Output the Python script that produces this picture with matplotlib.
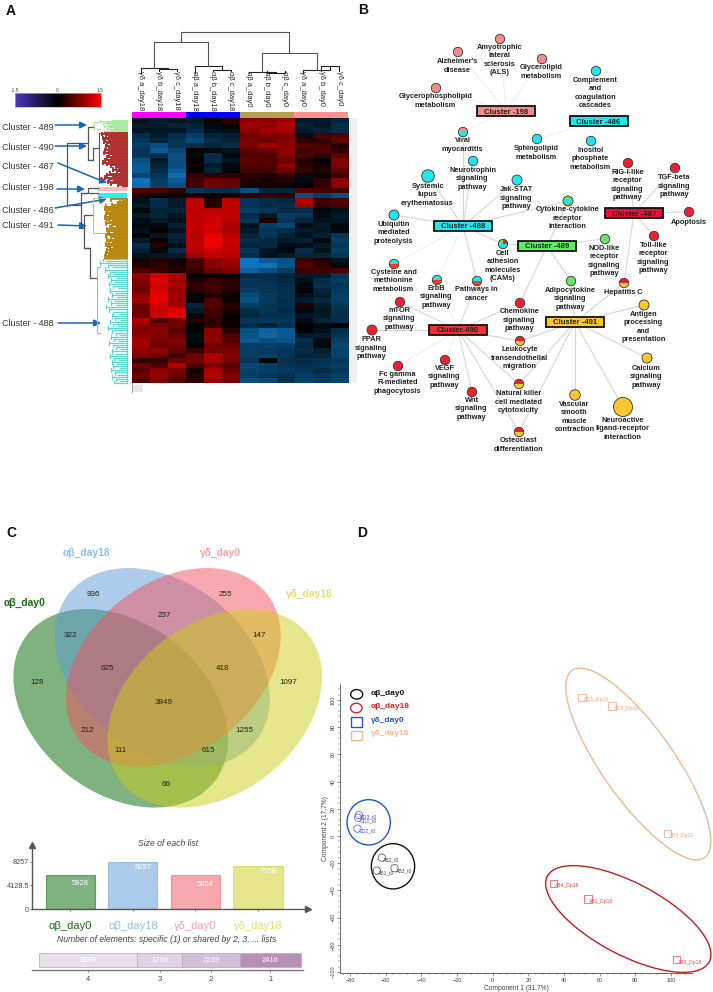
import numpy as np
import matplotlib
matplotlib.use("Agg")
import matplotlib.pyplot as plt
from matplotlib.colors import LinearSegmentedColormap
from matplotlib.patches import Circle, Ellipse, Rectangle, Wedge, FancyArrowPatch

plt.rcParams['font.family'] = ['Liberation Sans', 'DejaVu Sans']

W, H = 713, 992

# panel A, heatmap rows read top to bottom, three replicates per group
gd18_rows = [[-.2,-.3,-.25],[-.3,-.3,-.4],[-.25,-.25,-.3],[-.5,-.3,-.5],[-.6,-.4,-.6],[-.7,-.9,-.6],[-.6,-1.0,-.8],[-.6,-.5,-.9],
             [-.9,-.3,-.9],[-1.0,-.4,-.9],[-1.0,-.5,-1.0],[-.8,-.6,-1.2],[-1.3,-.7,-1.0],[-1.2,-.7,-.9],[.5,.5,.3],[.2,.1,.1],
             [-.2,-.5,-.3],[-.3,-.5,-.3],[-.1,-.4,-.4],[-.3,-.4,-.25],[-.15,-.3,-.2],[-.1,-.1,-.35],[-.2,.1,-.2],[-.05,-.25,-.4],
             [-.3,.1,-.35],[-.5,.2,-.2],[-.35,-.1,-.5],[-.2,-.25,-.3],[.15,.25,.1],[.2,.3,.15],[.5,.35,.2],[.9,1.3,1.1],
             [.8,1.4,1.0],[.75,1.3,1.1],[.7,1.35,.95],[.9,1.45,1.0],[1.0,1.45,.95],[.7,1.3,1.05],[.7,1.25,1.4],[.7,1.3,1.45],
             [1.1,.5,.7],[.9,.8,.7],[.8,.85,.55],[.9,.8,.7],[1.0,.75,.8],[1.0,.7,.75],[.9,.9,.6],[.8,.7,.4],
             [.3,.35,.7],[.7,.5,1.1],[.55,.9,.75],[.7,.95,.7],[.5,.85,.55]]
ab18_rows = [[-.3,.05,.25],[-.4,-.1,.1],[-.5,-.2,-.15],[-.7,-.4,-.35],[-.8,-.5,-.4],[-.5,-.4,-.5],[.1,-.1,-.2],[-.1,-.5,-.1],
             [.05,-.5,-.2],[.1,-.3,-.1],[-.05,-.4,-.05],[.35,.3,.3],[.4,.7,.6],[.45,.75,.7],[-.6,-.5,-.5],[.1,.1,.1],
             [1.2,.2,1.2],[1.2,.2,1.2],[1.2,1.2,1.2],[1.25,1.3,1.2],[1.2,1.3,1.15],[1.25,1.35,1.1],[1.2,1.3,1.1],[1.15,1.45,1.2],
             [1.2,1.5,1.25],[1.2,1.5,1.2],[1.15,1.3,1.25],[1.0,1.2,1.15],[.4,.9,1.0],[.45,.85,.95],[.35,.7,.8],[.05,.05,.05],
             [.2,.35,.25],[.35,.45,.3],[.25,.4,.2],[-.1,.2,.1],[-.05,.5,.1],[-.4,.55,.25],[-.3,.4,.2],[-.1,.4,.05],
             [.2,.3,.1],[-.05,.3,.05],[0,.9,.3],[-.15,.85,.5],[-.1,.9,.55],[0,.7,.7],[.35,.75,.75],[.7,1.1,.85],
             [.7,1.05,.75],[.5,.75,.55],[.15,1.1,.7],[.2,1.15,.85],[.3,.95,.75]]
ab0_rows = [[.9,.9,1.0],[1.0,.9,1.1],[.9,1.0,1.05],[.7,.8,.8],[.75,.7,.85],[.8,1.0,.9],[.6,.7,.9],[.5,.5,.8],
            [.6,.55,.7],[.5,.5,.9],[.45,.45,.7],[.2,.2,.25],[.2,.15,.2],[.15,.15,.1],[-.9,-.4,-.4],[.3,.35,.3],
            [-.6,-.5,-.4],[-.6,-.5,-.5],[-.7,-.6,-.5],[-.5,-.3,-.7],[-.6,.2,-.6],[-.2,-.7,-.8],[-.3,-.6,-.5],[-.4,-.6,-.4],
            [-.5,-.45,-.3],[-.4,-.45,-.15],[-.6,-.25,-.1],[-.5,-.2,-.3],[-1.3,-1.0,-.9],[-1.3,-1.3,-.95],[-1.1,-.9,-.7],[-.5,-.5,-.4],
            [-.6,-.55,-.45],[-.6,-.6,-.5],[-.7,-.6,-.55],[-.85,-.65,-.55],[-.9,-.65,-.5],[-.7,-.6,-.55],[-.5,-.6,-.5],[-.45,-.55,-.55],
            [-.6,-.6,-.6],[-.5,-.4,-.55],[-.9,-1.1,-1.0],[-.95,-1.15,-1.0],[-1.0,-.85,-.95],[-.7,-.7,-.7],[-.7,-.65,-.6],[-.7,-.7,-.6],
            [-.6,-.05,-.55],[-.8,-.7,-.6],[-.75,-.7,-.65],[-.7,-.6,-.55],[-.9,-.8,-.55]]
gd0_rows = [[-.3,-.3,-.4],[-.4,-.25,-.5],[-.3,-.4,-.5],[-.15,.5,.5],[.3,.3,.6],[.55,.45,.2],[.4,.5,.3],[.5,.3,.6],
            [.2,-.05,.8],[.25,.15,.8],[.35,.2,.6],[-.1,.1,.35],[-.1,.3,.9],[-.05,.35,.9],[.5,.45,.4],[-.9,-.7,-.9],
            [1.1,.4,.5],[1.0,.35,.45],[-.5,-.1,-.2],[-.6,-.15,-.3],[-.4,-.2,-.25],[-.15,-.3,-.1],[-.3,-.25,-.1],[-.2,-.35,-.6],
            [-.35,-.1,-.7],[-.15,-.3,-.6],[-.5,-.2,-.7],[-.4,-.4,-.6],[.4,.2,-.2],[.5,.35,-.1],[.4,.4,.5],[-.3,-.3,-.6],
            [-.15,-.5,-.65],[-.1,-.55,-.6],[-.05,-.4,-.65],[-.2,-.35,-.7],[-.3,-.45,-.7],[.2,-.3,-.6],[-.1,-.25,-.55],[-.25,-.3,-.5],
            [-.15,-.4,-.5],[.05,-.1,-.05],[-.05,-.2,-.5],[-.3,-.3,-.6],[-.5,-.15,-.7],[-.45,-.1,-.8],[-.5,-.35,-.75],[-.4,-.4,-.75],
            [-.5,-.55,-.6],[-.55,-.6,-.7],[-.6,-.5,-.6],[-.7,-.6,-.7],[-.75,-.65,-.75]]
col_labels = ['γδ a_day18', 'γδ b_day18', 'γδ c_day18', 'αβ a_day18', 'αβ b_day18', 'αβ c_day18',
              'αβ a_day0', 'αβ b_day0', 'αβ c_day0', 'γδ a_day0', 'γδ b_day0', 'γδ c_day0']
strip_colors = ['#ff00ff', '#0000ff', '#b5a050', '#ff9090']

# column tree: (left child, right child, y of the join in px), ids >= 12 are earlier joins
col_merges = [(1, 2, 69), (0, 12, 68), (4, 5, 70), (3, 14, 66), (13, 15, 42), (7, 8, 73), (6, 17, 72),
              (10, 11, 66), (9, 19, 70), (18, 20, 53), (16, 21, 32)]

# row tree, black part: (x of spine, y top, y bottom, x end top, x end bottom)
row_tree = [(67.3, 142.5, 205, 88, 81), (88, 127, 160, 94, 93), (93, 148, 160, 99, 88), (88, 188, 192.5, 98, 81),
            (81, 192.5, 228, 98, 84), (84, 215, 248, 93, 90), (90, 248, 278, 84, 97)]
# row clusters: left end of each leaf, top to bottom
leaves_489 = [112, 100, 106, 103, 111, 108, 104, 109, 113, 107, 110, 104]
leaves_490 = [104, 102, 106, 108, 103, 105, 108, 104, 107, 110, 106, 109, 112, 105, 108, 104, 109, 112, 107, 110,
              105, 108, 103, 107, 111, 116, 118, 113, 117, 120, 110, 107, 112, 105, 109, 113, 108, 111, 118, 122]
leaves_491 = [111, 122, 120, 118, 112, 106, 105, 107, 110, 108, 106, 109, 105, 107, 112, 109, 106, 112, 116, 110, 107,
              109, 113, 108, 106, 111, 114, 107, 109, 112, 106, 108, 113, 110, 107, 109, 106, 108, 105, 106]
leaves_488 = [103, 106, 100, 108, 112, 105, 110, 113, 108, 116, 111, 114, 109, 113, 118, 110, 115, 112, 117, 108,
              114, 111, 116, 106, 109, 113, 118, 112, 115, 120, 110, 113, 117, 108, 112, 116, 119, 111, 114, 118,
              109, 113, 116, 120, 112, 115, 110, 114, 118, 112, 116, 113, 119, 111, 115, 117, 112, 116, 119, 114]

cluster_names = ['Cluster - 489', 'Cluster - 490', 'Cluster - 487', 'Cluster - 198', 'Cluster - 486', 'Cluster - 491', 'Cluster - 488']
cluster_label_y = [127, 148, 166.5, 188, 210.5, 226, 324]
arrow_from = [(55, 125), (55, 146), (58, 163), (57, 189), (55, 208), (58, 225), (58, 323)]
arrow_to = [(87, 125), (87, 146), (107, 183), (85, 189), (107, 199), (87, 226), (101, 323)]

# panel B hubs: name, x, y, colour
hubs = {'198': ('Cluster -198', 506, 111, '#f08c8c'), '486': ('Cluster -486', 598.5, 121, '#22e6ee'),
        '487': ('Cluster -487', 634, 213, '#e8103a'), '488': ('Cluster -488', 463, 226, '#22e6ee'),
        '489': ('Cluster -489', 547, 246, '#5cee5c'), '490': ('Cluster-490', 458, 330, '#f03030'),
        '491': ('Cluster -491', 575, 322, '#fcc630')}
# panel B nodes: label, x, y, radius, colours top to bottom, label y, hubs it links to
PK, CY, RD, GO, LG = '#f08c8c', '#22e6ee', '#ee2030', '#fcc630', '#62e862'
nodes = [
    ('Amyotrophic\nlateral\nsclerosis\n(ALS)', 500, 39, 4.7, [PK], 60, ['198']),
    ("Alzheimer's\ndisease", 458, 52, 4.7, [PK], 66, ['198']),
    ('Glycerolipid\nmetabolism', 542, 59, 4.7, [PK], 72, ['198']),
    ('Glycerophospholipid\nmetabolism', 436, 88, 4.7, [PK], 101, ['198']),
    ('Complement\nand\ncoagulation\ncascades', 596, 71, 4.7, [CY], 93, ['486']),
    ('Viral\nmyocarditis', 463, 132, 4.7, [PK, CY], 145, ['198', '488']),
    ('Sphingolipid\nmetabolism', 537, 139, 4.7, [CY], 153, ['486']),
    ('Inositol\nphosphate\nmetabolism', 591, 141, 4.7, [CY], 159, ['486']),
    ('Neurotrophin\nsignaling\npathway', 473, 161, 4.7, [CY], 179, ['488']),
    ('RIG-I-like\nreceptor\nsignaling\npathway', 628, 163, 4.7, [RD], 185, ['487']),
    ('TGF-beta\nsignaling\npathway', 675, 168, 4.7, [RD], 186, ['487']),
    ('Systemic\nlupus\nerythematosus', 428, 176, 6.3, [CY], 195, ['488']),
    ('Jak-STAT\nsignaling\npathway', 517, 180, 5, [CY], 198, ['488']),
    ('Cytokine-cytokine\nreceptor\ninteraction', 568, 201, 5, [LG, CY, '#b0b020'], 218, ['488', '489']),
    ('Apoptosis', 689, 212, 4.7, [RD], 222, ['487']),
    ('Ubiquitin\nmediated\nproteolysis', 394, 215, 5, [CY], 233, ['488']),
    ('Cell\nadhesion\nmolecules\n(CAMs)', 503, 244, 4.7, [CY, RD, LG], 266, ['488', '489']),
    ('NOD-like\nreceptor\nsignaling\npathway', 605, 239, 4.7, [LG], 261, ['489']),
    ('Toll-like\nreceptor\nsignaling\npathway', 654, 236, 4.7, [RD], 258, ['487']),
    ('Cysteine and\nmethionine\nmetabolism', 394, 264, 4.7, [CY, '#e84020'], 281, ['488']),
    ('ErbB\nsignaling\npathway', 437, 280, 4.7, [CY, '#e84020'], 297, ['488', '490']),
    ('Pathways in\ncancer', 477, 281, 4.7, [CY, '#e84020'], 294, ['488', '490']),
    ('Adipocytokine\nsignaling\npathway', 571, 281, 4.7, [LG], 299, ['489', '491']),
    ('Hepatitis C', 624, 283, 4.7, [RD, GO], 292, ['487', '491']),
    ('mTOR\nsignaling\npathway', 400, 302, 4.7, [RD], 319, ['490']),
    ('Chemokine\nsignaling\npathway', 520, 303, 4.7, [RD], 320, ['489', '490']),
    ('Antigen\nprocessing\nand\npresentation', 644, 305, 5, [GO], 327, ['491']),
    ('PPAR\nsignaling\npathway', 372, 330, 5, [RD], 348, ['490']),
    ('Leukocyte\ntransendothelial\nmigration', 520, 341, 4.7, [RD, GO], 358, ['490', '491']),
    ('Calcium\nsignaling\npathway', 647, 358, 5, [GO], 377, ['491']),
    ('Fc gamma\nR-mediated\nphagocytosis', 398, 366, 4.7, [RD], 383, ['490']),
    ('VEGF\nsignaling\npathway', 445, 360, 4.7, [RD], 377, ['490']),
    ('Natural killer\ncell mediated\ncytotoxicity', 519, 384, 4.7, [RD, GO], 402, ['490', '491']),
    ('Wnt\nsignaling\npathway', 472, 392, 4.7, [RD], 409, ['490']),
    ('Vascular\nsmooth\nmuscle\ncontraction', 575, 395, 5.3, [GO], 417, ['491']),
    ('Neuroactive\nligand-receptor\ninteraction', 623, 407, 9.5, [GO], 429, ['491']),
    ('Osteoclast\ndifferentiation', 519, 432, 4.7, [RD, GO], 445, ['490', '491']),
]

# panel C venn
list_names = ['αβ_day0', 'αβ_day18', 'γδ_day0', 'γδ_day18']
list_sizes = [5928, 8257, 5854, 7558]
venn_fill = ['#006600', '#5a9bd5', '#f0525f', '#cccc1a']
venn_centers = [(120.7, 708.3), (162.3, 667.3), (173.3, 667.3), (214.7, 708.3)]
venn_angles = [38, 38, -38, -38]
venn_counts = [936, 255, 237, 322, 147, 625, 418, 128, 1097, 3849, 212, 1255, 111, 615, 66]
venn_count_xy = [(93.7, 595), (225.7, 595), (164.7, 615.3), (70.3, 635.7), (259.3, 635.7), (107.3, 669), (222.3, 669),
                 (36.7, 682.7), (288.3, 682.7), (163.7, 703), (87, 730), (244.7, 730), (120.7, 750.7), (208.3, 750.7), (166, 784)]
shared_by = ['4', '3', '2', '1']
shared_counts = [3849, 1769, 2239, 2416]
shared_colors = ['#e9dfeb', '#e0d2e4', '#d2bfd9', '#b78fb7']

# panel D scores
ab0_x, ab0_y = [-62.2, -65, -55.1], [-15.9, -25.5, -23.7]
ab18_x, ab18_y = [34.2, 53.5, 103.2], [-34.8, -46.3, -91]
gd0_x, gd0_y = [-75.1, -75.5, -75.9], [15.4, 13.5, 5.4]
gd18_x, gd18_y = [50.1, 66.9, 98.1], [102, 95.5, 2]
ab0_names = ['AB2_t0', 'AB1_t0', 'AB3_t0']
ab18_names = ['AB4_Dp18', 'AB1_Dp18', 'AB3_Dp18']
gd0_names = ['GD3_t0', 'GD1_t0', 'GD2_t0']
gd18_names = ['GD1_Dp18', 'GD4_Dp18', 'GD3_Dp18']


def px_axes(x0, y0, x1, y1):
    return fig.add_axes([x0 / W, 1 - y1 / H, (x1 - x0) / W, (y1 - y0) / H])


fig = plt.figure(figsize=(W / 100, H / 100), dpi=100)

# ---- A heatmap
heat = np.hstack([gd18_rows, ab18_rows, ab0_rows, gd0_rows])
heat_cmap = LinearSegmentedColormap.from_list('heat', ['#0f86d8', '#000000', '#ee0000'])
ax_heat = px_axes(131.7, 118.3, 348, 383)
ax_heat.imshow(heat, cmap=heat_cmap, vmin=-1.5, vmax=1.5, aspect='auto', interpolation='nearest')
ax_heat.axis('off')

ax_strip = px_axes(131.7, 111.7, 348, 118.3)
ax_strip.bar(range(4), [1] * 4, width=1, color=strip_colors)
ax_strip.set_xlim(-.5, 3.5)
ax_strip.set_ylim(0, 1)
ax_strip.axis('off')

ax_key = px_axes(15, 92.7, 100.7, 106.7)
key_cmap = LinearSegmentedColormap.from_list('key', ['#4a3ab8', '#000000', '#ff0000'])
ax_key.imshow(np.linspace(-1.5, 1.5, 200)[None, :], cmap=key_cmap, aspect='auto', extent=(-1.5, 1.5, 0, 1))
ax_key.set_yticks([])
ax_key.set_xticks([])
for s in ax_key.spines.values():
    s.set_color('#e8a0a0')
    s.set_linewidth(0.5)

# ---- C size bars
ax_bar = px_axes(32.3, 845, 308, 909)
ax_bar.set_facecolor('none')
bars = ax_bar.bar(range(4), list_sizes, width=0.788, color=venn_fill, alpha=0.5, edgecolor=venn_fill, linewidth=0.8)
ax_bar.set_xlim(-0.607, 3.8)
ax_bar.set_ylim(0, 8257 * 64 / 47.3)
ax_bar.set_yticks([0, 4128.5, 8257], ['0', '4128.5', '8257'])
ax_bar.set_xticks(range(4), [''] * 4)
ax_bar.tick_params(labelsize=5.2, length=1.5, width=0.5, colors='#444444', pad=1)
for s in ['top', 'right']:
    ax_bar.spines[s].set_visible(False)
for s in ['left', 'bottom']:
    ax_bar.spines[s].set_color('#555555')
    ax_bar.spines[s].set_linewidth(1)
ax_bar.plot(1, 0, '>', color='#555555', ms=5, transform=ax_bar.transAxes, clip_on=False)
ax_bar.plot(0, 1, '^', color='#555555', ms=5, transform=ax_bar.transAxes, clip_on=False)
label_drop = [1500, 1050, 1500, 1050]
for i, v in enumerate(list_sizes):
    ax_bar.text(i + 0.3, v - label_drop[i], str(v), color='white', ha='right', va='center', fontsize=5.5)

ax_share = px_axes(32.3, 950, 303, 970)
ax_share.set_facecolor('none')
left = 0
for n, c, col in zip(shared_by, shared_counts, shared_colors):
    ax_share.barh(0, c, left=left, height=0.67, color=col, edgecolor='#bbb0bf', linewidth=0.6)
    ax_share.text(left + c / 2, 0, str(c), color='white', ha='center', va='center', fontsize=5.5)
    left += c
ax_share.set_xlim(-262, left + 70)
ax_share.set_ylim(-0.5, 0.5)
ticks = np.cumsum([0] + shared_counts[:-1]) + np.array(shared_counts) / 2
ax_share.set_xticks(ticks, shared_by)
ax_share.set_yticks([])
ax_share.tick_params(labelsize=5.5, length=1.5, width=0.5, colors='#444444', pad=3)
for s in ['top', 'right', 'left']:
    ax_share.spines[s].set_visible(False)
ax_share.spines['bottom'].set_color('#777777')
ax_share.spines['bottom'].set_linewidth(1)

# ---- D scores
ax_pca = px_axes(340.3, 684, 692, 973.3)
ax_pca.set_facecolor('none')
label_offset = {'GD3_t0': (1, -2), 'GD1_t0': (1, -3.5), 'GD2_t0': (1, -3)}
for xs, ys, names, mk, col in [(ab0_x, ab0_y, ab0_names, 'o', '#444444'), (ab18_x, ab18_y, ab18_names, 's', '#ee4444'),
                               (gd0_x, gd0_y, gd0_names, 'o', '#5050e0'), (gd18_x, gd18_y, gd18_names, 's', '#f0a080')]:
    ax_pca.scatter(xs, ys, marker=mk, s=28, facecolors='none', edgecolors=col, linewidths=0.5)
    for x, y, n in zip(xs, ys, names):
        ax_pca.annotate(n, (x, y), xytext=label_offset.get(n, (1, -3)), textcoords='offset points', fontsize=3.6, color=col)
ax_pca.set_xlim(-85.5, 111.8)
ax_pca.set_ylim(-101, 111.8)
ax_pca.set_xticks(np.arange(-80, 101, 20))
ax_pca.set_yticks(np.arange(-100, 101, 20))
ax_pca.set_xticks(np.arange(-84, 110, 4), minor=True)
ax_pca.set_yticks(np.arange(-100, 110, 4), minor=True)
ax_pca.tick_params(which='major', labelsize=4, length=2.5, width=0.4, colors='#444444', pad=1)
ax_pca.tick_params(which='minor', length=1.2, width=0.3, colors='#444444')
ax_pca.tick_params(axis='y', labelrotation=90)
for t in ax_pca.get_yticklabels():
    t.set_va('center')
for s in ['top', 'right']:
    ax_pca.spines[s].set_visible(False)
for s in ['left', 'bottom']:
    ax_pca.spines[s].set_linewidth(0.5)
    ax_pca.spines[s].set_color('#333333')
ax_pca.set_xlabel('Component 1 (31.7%)', fontsize=4.8, color='#444444', labelpad=1, x=0.5)
ax_pca.set_ylabel('Component 2 (17.7%)', fontsize=4.8, color='#444444', labelpad=1)

# ---- overlay in picture pixels
ax = fig.add_axes([0, 0, 1, 1])
ax.set_xlim(0, W)
ax.set_ylim(H, 0)
ax.axis('off')
ax.patch.set_alpha(0)

for (t, x, y) in [('A', 11, 11), ('B', 363, 10), ('C', 11, 533), ('D', 362, 533)]:
    ax.text(x, y, t, fontsize=10, fontweight='bold', ha='center', va='center', color='#111111')

# colour key ticks
for t, x in [('-1.5', 15), ('0', 57.5), ('1.5', 100)]:
    ax.text(x, 90, t, fontsize=3.5, ha='center', va='center', color='#444444')
# grey side strip and stub
ax.add_patch(Rectangle((349, 118), 8, 265, color='#efefef', lw=0))
ax.add_patch(Rectangle((132, 385), 11, 7, color='#e8e8e8', lw=0))
ax.plot([131.5, 131.5], [383, 392], color='#999999', lw=0.6)

# column tree
leaf_base = 71
col_x = [131.7 + 18.03 * (i + .5) for i in range(12)]
col_h = [leaf_base + (i % 3 == 0) * 2 for i in range(12)]
node_x, node_y = list(col_x), list(col_h)
for a, b, y in col_merges:
    ax.plot([node_x[a], node_x[a], node_x[b], node_x[b]], [node_y[a], y, y, node_y[b]],
            color='#555555' if y < 60 else '#222222', lw=0.8)
    node_x.append((node_x[a] + node_x[b]) / 2)
    node_y.append(y)
for x, t in zip(col_x, col_labels):
    ax.text(x, 71, t, rotation=270, ha='center', va='top', fontsize=5.4, color='#222222', clip_on=True)


def draw_cluster(leaf_x, y0, y1, color, lw, spine=None, spine_color=None):
    ys = np.linspace(y0, y1, len(leaf_x))
    ax.hlines(ys, leaf_x, 126.5, color=color, lw=lw)
    for i in range(len(leaf_x) - 1):
        x = min(leaf_x[i], leaf_x[i + 1])
        ax.plot([x, x], [ys[i], ys[i + 1]], color=color, lw=lw)
    ax.plot([126.8, 126.8], [y0, y1], color=color, lw=lw)
    if spine:
        sx, top, bottom = spine
        ax.plot([min(leaf_x), sx, sx, min(leaf_x)], [top, top, bottom, bottom], color=spine_color or color, lw=0.8)


for sx, yt, yb, xt, xb in row_tree:
    ax.plot([xt, sx, sx, xb], [yt, yt, yb, yb], color='#555555', lw=0.9)
draw_cluster(leaves_489, 119.5, 131, '#a8eba0', 0.9, (94, 122, 129))
draw_cluster(leaves_490, 132.5, 186, '#b03030', 1.4, (99, 133, 178))
ax.add_patch(Rectangle((98, 187), 29, 4, color='#ffb8b8', lw=0))
ax.add_patch(Rectangle((98, 192.5), 29, 5.5, color='#30eeee', lw=0))
draw_cluster(leaves_491, 199, 257.5, '#b8860b', 1.4, (93, 198, 233), '#dcb96a')
draw_cluster(leaves_488, 259, 383, '#56dcc8', 0.9, (97, 267, 333))

for name, y in zip(cluster_names, cluster_label_y):
    ax.text(2, y, name, fontsize=6.5, ha='left', va='center', color='#333333')
for a, b in zip(arrow_from, arrow_to):
    ax.add_patch(FancyArrowPatch(a, b, arrowstyle='-|>', mutation_scale=10, color='#1565c0', lw=1.1, shrinkA=0, shrinkB=0))

# network edges below nodes
faint = {('488', 'Cysteine'), ('490', 'Fc gamma'), ('488', 'ErbB'), ('490', 'ErbB'), ('490', 'VEGF')}
for label, x, y, r, cols, ly, links in nodes:
    for h in links:
        hx, hy = hubs[h][1], hubs[h][2]
        light = (h in ('198', '486')) or any(h == f[0] and label.startswith(f[1]) for f in faint)
        ax.plot([x, hx], [y, hy], color='#efefef' if light else '#d6d6d6', lw=0.8, zorder=1)

for label, x, y, r, cols, ly, links in nodes:
    if label.startswith('Cell'):
        ax.add_patch(Wedge((x, y), r, 0, 360, fc=cols[0], lw=0, zorder=3))
        ax.add_patch(Wedge((x, y), r, -90, 0, fc=cols[1], lw=0, zorder=3))
        ax.add_patch(Wedge((x, y), r, 180, 270, fc=cols[2], lw=0, zorder=3))
    else:
        clip = Circle((x, y), r, transform=ax.transData)
        for i, c in enumerate(cols):
            band = Rectangle((x - r, y - r + 2 * r * i / len(cols)), 2 * r, 2 * r / len(cols), fc=c, lw=0, zorder=3)
            ax.add_patch(band)
            band.set_clip_path(clip)
    ax.add_patch(Circle((x, y), r, fc='none', ec='#333333', lw=0.6, zorder=4))
    ax.text(x - 0.5, ly, label, fontsize=5.3, fontweight='bold', ha='center', va='center', color='#222222',
            linespacing=1.3, zorder=5)

for h, (name, x, y, col) in hubs.items():
    ax.add_patch(Rectangle((x - 29, y - 5.2), 58, 10.4, fc=col, ec='#111111', lw=1.3, zorder=4))
    ax.text(x, y, name, fontsize=5.6, fontweight='bold', ha='center', va='center_baseline', color='#222222', zorder=5)

# venn
for c, a, col in zip(venn_centers, venn_angles, venn_fill):
    ax.add_patch(Ellipse(c, 238, 170, angle=a, fc=col, alpha=0.5, lw=0))
for n, (x, y) in zip(venn_counts, venn_count_xy):
    ax.text(x, y, str(n), fontsize=5.8, ha='center', va='center', color='#222222')
ax.text(24, 603.3, list_names[0], fontsize=7.4, fontweight='bold', ha='center', va='center', color='#1a6b1a')
ax.text(86.7, 553.3, list_names[1], fontsize=7.4, fontweight='bold', ha='center', va='center', color='#8cbfe8')
ax.text(220, 552.7, list_names[2], fontsize=7.4, fontweight='bold', ha='center', va='center', color='#f4a0a8')
ax.text(309.3, 593.7, list_names[3], fontsize=7.4, fontweight='bold', ha='center', va='center', color='#e2e070')

ax.text(168, 843, 'Size of each list', fontsize=6.2, style='italic', ha='center', va='center', color='#444444')
ax.text(167, 940, 'Number of elements: specific (1) or shared by 2, 3, ... lists', fontsize=6.2, style='italic',
        ha='center', va='center', color='#444444')
bar_name_colors = ['#1a6b1a', '#8cbfe8', '#f4a0a8', '#e2e070']
for x, t, col in zip([70.3, 133, 195.3, 258], list_names, bar_name_colors):
    ax.text(x, 925.7, t, fontsize=8, ha='center', va='center', color=col)

# pca ellipses and legend
ax.add_patch(Ellipse((368.7, 822.3), 43.3, 45.3, fc='none', ec='#2255cc', lw=1))
ax.add_patch(Ellipse((393, 866.3), 43.3, 45.3, fc='none', ec='#111111', lw=1))
ax.add_patch(Ellipse((638.3, 764), 229.4, 72, angle=54.7, fc='none', ec='#f0b890', lw=1))
ax.add_patch(Ellipse((628.3, 919), 183.2, 72, angle=27.9, fc='none', ec='#cc1a1a', lw=1))
ax.add_patch(Ellipse((356.7, 694.3), 12, 9.5, fc='none', ec='#111111', lw=1))
ax.add_patch(Ellipse((356.3, 708), 11.5, 9.5, fc='none', ec='#dd2222', lw=1))
ax.add_patch(Rectangle((350.7, 717), 11, 9.5, fc='none', ec='#2255cc', lw=1))
ax.add_patch(Rectangle((350.7, 730.5), 11.5, 9.5, fc='none', ec='#f0b890', lw=1))
legend_colors = ['#111111', '#dd2222', '#2255cc', '#f0b890']
for y, t, col in zip([693.5, 707, 720.5, 733.5], list_names, legend_colors):
    ax.text(371, y, t, fontsize=6, fontweight='bold', ha='left', va='center', color=col)

fig.savefig('out.png', dpi=100)
